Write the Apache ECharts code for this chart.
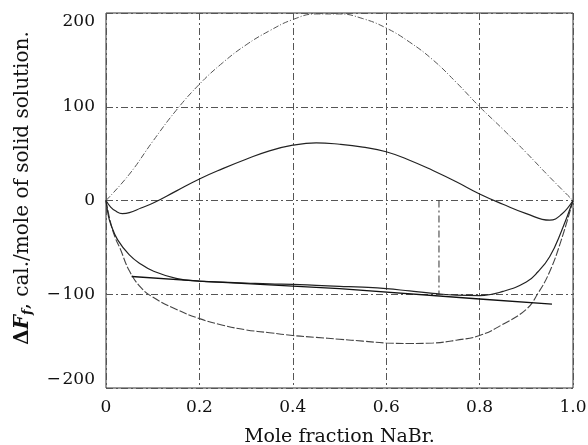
<!DOCTYPE html>
<html>
<head>
<meta charset="utf-8">
<script src="https://cdn.jsdelivr.net/npm/echarts@6/dist/echarts.min.js"></script>
<style>html,body{margin:0;padding:0;background:#fff}#c{width:588px;height:445px}</style>
</head>
<body>
<div id="c"></div>
<script>
// Data (x = mole fraction NaBr, y = cal./mole)
const curveA = [[0,0],[0.05,28],[0.1,63],[0.15,96],[0.2,124],[0.25,147],[0.3,166],[0.35,181],[0.4,193],[0.45,199],[0.5,199],[0.55,194],[0.6,184],[0.65,169],[0.7,150],[0.75,126],[0.8,100],[0.85,76],[0.9,51],[0.95,25],[1,0]];
const curveB = [[0,0],[0.01,-7],[0.02,-11],[0.035,-14],[0.05,-13],[0.075,-8],[0.1,-3],[0.15,10],[0.2,23],[0.25,34],[0.3,44],[0.35,53],[0.4,59],[0.45,61.5],[0.5,60],[0.55,57],[0.6,52],[0.65,43],[0.7,32],[0.75,20],[0.8,7],[0.85,-4],[0.9,-14],[0.95,-21],[0.975,-15],[1,0]];
const curveC = [[0,0],[0.01,-24],[0.02,-40],[0.03,-51],[0.05,-75],[0.075,-93],[0.1,-103],[0.15,-116],[0.2,-126],[0.25,-133],[0.3,-138],[0.35,-141],[0.4,-144],[0.45,-146],[0.5,-148],[0.55,-150],[0.6,-152],[0.65,-152.5],[0.7,-152],[0.75,-149],[0.8,-144],[0.85,-132],[0.9,-116],[0.925,-99],[0.95,-76],[0.975,-42],[1,0]];
const curveD = [[0,0],[0.005,-16],[0.01,-25],[0.025,-42],[0.05,-58],[0.075,-68],[0.1,-75],[0.15,-83],[0.2,-86],[0.25,-87],[0.3,-88],[0.35,-89],[0.4,-89.5],[0.45,-90.5],[0.5,-91.5],[0.55,-92.5],[0.6,-94],[0.65,-96.5],[0.7,-99],[0.75,-101],[0.8,-101.5],[0.85,-97],[0.9,-87],[0.925,-76],[0.95,-60],[0.975,-33],[1,0]];
const lineE = [[0.055,-81],[0.2,-86],[0.5,-94],[0.8,-105],[0.955,-110.5]];
const segment07 = [[0.713,0],[0.713,-100]];
const xTicks = [0,0.2,0.4,0.6,0.8,1.0];
const yTicks = [-200,-100,0,100,200];

const dashDot = [7,3,2,3];
const font = 'DejaVu Serif';
const chart = echarts.init(document.getElementById('c'));

function line(data, color, width, type){
  return {type:'line', data:data, showSymbol:false, smooth:0.45, silent:true,
    lineStyle:{color:color, width:width, type:type}, z:3};
}

chart.setOption({
  animation:false,
  backgroundColor:'#fff',
  grid:{left:106, right:15, top:13, bottom:57, containLabel:false, outerBoundsMode:'none',
    show:true, borderColor:'#333', borderWidth:1, backgroundColor:'transparent'},
  xAxis:{type:'value', min:xTicks[0], max:xTicks[xTicks.length-1], interval:0.2,
    name:'Mole fraction NaBr.', nameLocation:'middle', nameGap:40,
    nameTextStyle:{fontFamily:font, fontSize:19, color:'#111'},
    axisLine:{show:false}, axisTick:{show:false},
    axisLabel:{fontFamily:font, fontSize:17, color:'#111', margin:11,
      formatter:function(v){ return v===0 ? '0' : v.toFixed(1); }},
    splitLine:{show:true, lineStyle:{color:'#555', width:1, type:dashDot}}
  },
  yAxis:{type:'value', min:yTicks[0], max:yTicks[yTicks.length-1], interval:100,
    axisLine:{show:false}, axisTick:{show:false},
    axisLabel:{fontFamily:font, fontSize:17, color:'#111', margin:11,
      verticalAlignMaxLabel:'top', verticalAlignMinLabel:'bottom',
      formatter:function(v){ return v<0 ? '\u2212\u200A' + Math.abs(v) : String(v); }},
    splitLine:{show:true, lineStyle:{color:'#555', width:1, type:dashDot}}
  },
  graphic:[{type:'text', x:23, y:188, rotation:Math.PI/2,
    style:{text:'{d|\u0394}{f|F}{s|f}{n|, cal./mole of solid solution.}', align:'center', verticalAlign:'middle',
      rich:{
        d:{fontFamily:font, fontSize:20, fontWeight:'bold', fill:'#111'},
        f:{fontFamily:font, fontSize:20, fontWeight:'bold', fontStyle:'italic', fill:'#111'},
        s:{fontFamily:font, fontSize:13, fontWeight:'bold', fontStyle:'italic', fill:'#111', verticalAlign:'bottom', padding:[9,0,0,0]},
        n:{fontFamily:font, fontSize:20, fill:'#111'}
      }}}],
  series:[
    line(curveA, '#555', 1, [6,2,1,2]),
    line(curveB, '#222', 1.2, 'solid'),
    line(curveC, '#444', 1.1, [8,2]),
    line(curveD, '#222', 1.2, 'solid'),
    {type:'line', data:lineE, showSymbol:false, silent:true, lineStyle:{color:'#111', width:1.4}, z:3},
    {type:'line', data:segment07, showSymbol:false, silent:true, lineStyle:{color:'#333', width:1, type:dashDot}, z:2}
  ]
});
</script>
</body>
</html>
